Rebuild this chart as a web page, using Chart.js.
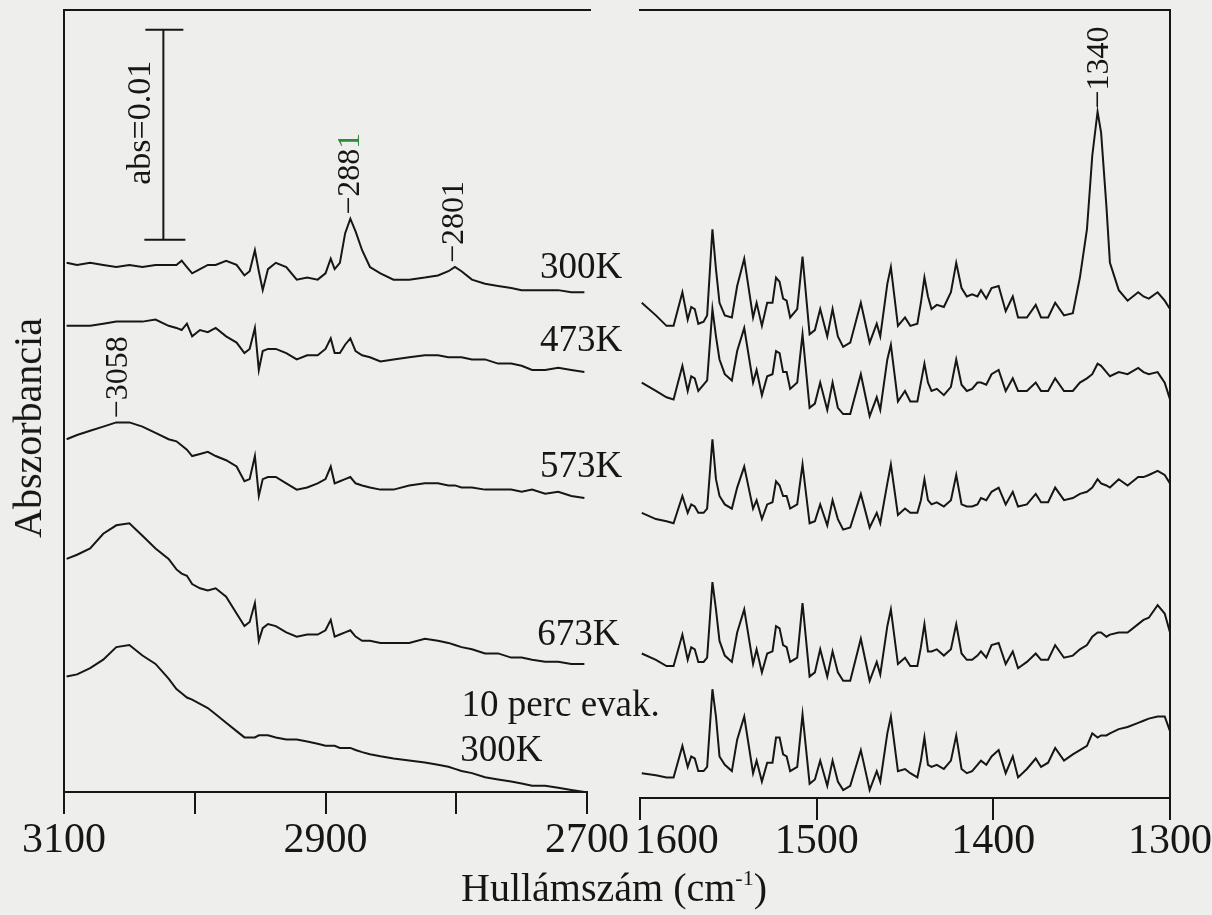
<!DOCTYPE html>
<html>
<head>
<meta charset="utf-8">
<script src="https://cdn.jsdelivr.net/npm/chart.js@4.4.1/dist/chart.umd.min.js"></script>
<style>
  html, body { margin: 0; padding: 0; background: #eeeeec; overflow: hidden; }
  body { width: 1212px; height: 915px; position: relative; font-family: "Liberation Serif", "Times New Roman", serif; color: #161616; }
  #left-chart { position: absolute; left: 0; top: 0; }
  #right-chart { position: absolute; left: 550px; top: 0; }
  .axis-title { position: absolute; font-size: 40px; line-height: 40px; white-space: nowrap; }
  .axis-title sup { font-size: 22px; vertical-align: 16px; line-height: 0; }
  #x-title { left: 614px; top: 868px; transform: translateX(-50%); }
  #y-title { left: 28px; top: 428px; transform: translate(-50%, -50%) rotate(-90deg); }
</style>
</head>
<body>
<canvas id="left-chart" width="700" height="915"></canvas>
<canvas id="right-chart" width="710" height="915"></canvas>
<div class="axis-title" id="x-title">Hullámszám (cm<sup>-1</sup>)</div>
<div class="axis-title" id="y-title">Abszorbancia</div>
<script>
// Spectra are stacked with offsets, values in mAbs (10 mAbs = abs 0.01)

// C-H stretching region (left panel)
const leftWavenumbers = [3098, 3090, 3080, 3070, 3060, 3050, 3040, 3030, 3020, 3014,
  3010, 3006, 3002, 2996, 2990, 2984, 2976, 2968, 2962, 2958,
  2954, 2951, 2948, 2944, 2938, 2930, 2922, 2914, 2906, 2900,
  2896, 2893, 2889, 2885, 2881, 2877, 2872, 2866, 2858, 2848,
  2836, 2824, 2814, 2806, 2801, 2796, 2788, 2778, 2768, 2758,
  2750, 2742, 2732, 2722, 2712, 2702];

const left300K = [25.2, 25.1, 25.2, 25.1, 25.0, 25.1, 25.0, 25.1, 25.1, 25.1,
  25.3, 25.0, 24.7, 24.9, 25.1, 25.1, 25.3, 25.1, 24.6, 24.8,
  25.8, 24.8, 23.9, 24.9, 25.2, 25.0, 24.4, 24.5, 24.4, 24.7,
  25.4, 24.9, 25.2, 26.6, 27.3, 26.7, 25.8, 25.0, 24.7, 24.4,
  24.4, 24.5, 24.6, 24.8, 25.0, 24.8, 24.4, 24.2, 24.1, 24.0,
  23.9, 23.9, 23.9, 23.9, 23.8, 23.8];

const left473K = [22.2, 22.2, 22.2, 22.3, 22.4, 22.4, 22.4, 22.5, 22.2, 22.1,
  22.0, 22.3, 21.7, 22.0, 21.9, 22.1, 21.7, 21.4, 20.9, 21.1,
  22.1, 20.1, 21.0, 21.1, 21.1, 20.9, 20.6, 20.8, 20.8, 21.1,
  21.6, 20.9, 20.9, 21.3, 21.6, 21.0, 20.8, 20.7, 20.5, 20.6,
  20.7, 20.8, 20.8, 20.7, 20.7, 20.7, 20.6, 20.6, 20.4, 20.4,
  20.3, 20.1, 20.1, 20.2, 20.1, 20.0];

const left573K = [16.8, 17.0, 17.2, 17.4, 17.6, 17.6, 17.4, 17.1, 16.8, 16.7,
  16.5, 16.3, 16.0, 16.1, 16.2, 16.0, 15.8, 15.5, 14.8, 14.9,
  16.0, 14.1, 14.9, 15.0, 15.0, 14.7, 14.4, 14.5, 14.7, 14.9,
  15.5, 14.7, 14.8, 14.9, 15.0, 14.7, 14.6, 14.5, 14.4, 14.4,
  14.6, 14.7, 14.7, 14.6, 14.6, 14.5, 14.5, 14.4, 14.4, 14.4,
  14.3, 14.4, 14.2, 14.3, 14.1, 14.0];

const left673K = [11.1, 11.3, 11.6, 12.3, 12.7, 12.8, 12.2, 11.6, 11.1, 10.6,
  10.4, 10.3, 9.9, 9.7, 9.6, 9.7, 9.3, 8.5, 7.9, 8.1,
  9.0, 7.2, 7.8, 8.0, 7.9, 7.6, 7.4, 7.5, 7.5, 7.7,
  8.2, 7.4, 7.5, 7.6, 7.7, 7.4, 7.2, 7.2, 7.1, 7.1,
  7.1, 7.3, 7.2, 7.1, 7.0, 6.9, 6.8, 6.6, 6.6, 6.4,
  6.4, 6.3, 6.2, 6.2, 6.1, 6.1];

const leftEvak300K = [5.5, 5.6, 5.9, 6.3, 6.9, 7.0, 6.5, 6.1, 5.4, 4.9,
  4.7, 4.5, 4.4, 4.2, 4.0, 3.7, 3.3, 2.9, 2.6, 2.6,
  2.6, 2.7, 2.7, 2.7, 2.6, 2.5, 2.5, 2.4, 2.3, 2.2,
  2.2, 2.2, 2.1, 2.1, 2.1, 2.0, 1.9, 1.8, 1.7, 1.6,
  1.5, 1.4, 1.3, 1.2, 1.1, 1.0, 0.9, 0.7, 0.6, 0.5,
  0.4, 0.3, 0.3, 0.2, 0.1, 0.0];

// ring vibration region (right panel)
const rightWavenumbers = [1599, 1591, 1585, 1581, 1576, 1573, 1571, 1569, 1567, 1564,
  1562, 1559, 1557, 1555, 1552, 1548, 1545, 1541, 1536, 1534,
  1531, 1528, 1525, 1523, 1521, 1519, 1517, 1515, 1511, 1508,
  1504, 1501, 1498, 1494, 1491, 1488, 1485, 1481, 1475, 1470,
  1466, 1464, 1460, 1458, 1454, 1450, 1447, 1443, 1441, 1439,
  1437, 1435, 1432, 1428, 1424, 1421, 1418, 1415, 1412, 1409,
  1407, 1404, 1401, 1397, 1393, 1389, 1386, 1381, 1376, 1373,
  1369, 1365, 1360, 1355, 1351, 1347, 1344, 1341, 1339, 1336,
  1334, 1329, 1324, 1318, 1315, 1312, 1307, 1303, 1300];

const right300K = [23.3, 22.7, 22.2, 22.2, 23.8, 22.5, 23.1, 23.0, 22.3, 22.4,
  22.7, 26.8, 24.9, 23.3, 22.7, 22.6, 24.1, 25.4, 22.6, 23.3,
  22.2, 23.3, 23.3, 24.5, 24.3, 23.5, 23.4, 22.6, 23.0, 25.5,
  21.8, 22.0, 23.0, 21.7, 23.0, 21.7, 21.2, 21.4, 23.3, 21.4,
  22.3, 21.7, 24.2, 25.0, 22.2, 22.6, 22.2, 22.3, 23.3, 24.5,
  23.6, 23.0, 23.2, 23.1, 23.8, 25.2, 24.0, 23.6, 23.7, 23.6,
  23.9, 23.5, 24.0, 24.1, 22.9, 23.6, 22.6, 22.6, 23.2, 22.6,
  22.6, 23.3, 22.7, 22.8, 24.5, 26.8, 30.3, 32.4, 31.4, 27.9,
  25.2, 23.9, 23.4, 23.8, 23.6, 23.5, 23.8, 23.4, 23.0];

const right473K = [19.5, 19.1, 18.8, 18.7, 20.3, 19.1, 19.8, 19.7, 19.1, 19.4,
  19.6, 23.0, 21.7, 20.6, 19.9, 19.6, 21.0, 22.1, 19.5, 20.1,
  18.9, 19.8, 19.9, 21.0, 20.9, 20.0, 20.0, 19.2, 19.5, 21.8,
  18.3, 18.5, 19.5, 18.2, 19.5, 18.3, 18.0, 18.0, 19.9, 17.9,
  18.8, 18.2, 20.6, 21.3, 18.6, 19.1, 18.6, 18.6, 19.5, 20.4,
  19.5, 19.1, 19.2, 18.9, 19.3, 20.6, 19.4, 19.1, 19.2, 19.5,
  19.5, 19.4, 19.9, 20.1, 19.1, 19.7, 19.1, 19.1, 19.5, 19.1,
  19.1, 19.7, 19.1, 19.1, 19.5, 19.7, 19.9, 20.4, 20.3, 20.0,
  19.8, 20.0, 19.9, 20.2, 20.0, 19.9, 20.0, 19.5, 18.7];

const right573K = [13.3, 13.0, 12.9, 12.8, 14.1, 13.3, 13.7, 13.6, 13.3, 13.3,
  13.5, 16.8, 14.9, 14.1, 13.7, 13.5, 14.5, 15.5, 13.5, 13.9,
  13.0, 13.7, 13.8, 14.8, 14.6, 14.1, 14.1, 13.5, 13.7, 15.6,
  12.8, 12.9, 13.7, 12.7, 13.9, 13.0, 12.5, 12.6, 14.2, 12.6,
  13.3, 12.8, 14.7, 15.6, 13.2, 13.5, 13.3, 13.3, 13.9, 14.9,
  13.9, 13.7, 13.8, 13.6, 13.9, 15.1, 13.7, 13.6, 13.6, 13.7,
  14.0, 13.9, 14.3, 14.5, 13.7, 14.3, 13.6, 13.7, 14.2, 13.8,
  13.8, 14.5, 13.9, 14.0, 14.2, 14.3, 14.5, 14.9, 14.7, 14.6,
  14.5, 14.9, 14.6, 15.0, 15.0, 15.1, 15.3, 15.1, 14.7];

const right673K = [6.6, 6.3, 6.0, 6.0, 7.5, 6.3, 6.9, 6.8, 6.2, 6.2,
  6.4, 10.0, 8.7, 7.2, 6.5, 6.2, 7.6, 8.7, 6.1, 6.8,
  5.7, 6.6, 6.7, 7.9, 7.8, 7.0, 6.9, 6.2, 6.4, 9.0,
  5.5, 5.7, 6.8, 5.5, 6.7, 5.7, 5.3, 5.3, 7.3, 5.3,
  6.2, 5.6, 7.9, 8.7, 6.1, 6.4, 6.0, 6.0, 6.9, 8.0,
  6.7, 6.7, 6.8, 6.5, 6.8, 8.0, 6.6, 6.3, 6.3, 6.5,
  6.7, 6.4, 7.0, 7.1, 6.1, 6.7, 5.9, 6.2, 6.6, 6.3,
  6.3, 7.0, 6.4, 6.5, 6.8, 7.0, 7.4, 7.6, 7.6, 7.4,
  7.5, 7.6, 7.6, 8.0, 8.2, 8.3, 8.9, 8.5, 7.6];

const rightEvak300K = [0.9, 0.8, 0.7, 0.7, 2.2, 1.2, 1.7, 1.6, 1.0, 1.0,
  1.2, 4.9, 3.6, 1.7, 1.3, 1.0, 2.5, 3.6, 0.9, 1.5,
  0.5, 1.4, 1.4, 2.6, 2.6, 1.8, 1.7, 1.0, 1.2, 3.7,
  0.4, 0.6, 1.5, 0.3, 1.5, 0.5, 0.1, 0.3, 2.0, 0.1,
  1.0, 0.5, 2.8, 3.6, 1.0, 1.1, 0.9, 0.7, 1.5, 2.6,
  1.3, 1.2, 1.3, 1.1, 1.5, 2.7, 1.1, 0.9, 1.0, 1.3,
  1.5, 1.3, 1.7, 2.0, 0.9, 1.7, 0.7, 1.1, 1.6, 1.2,
  1.4, 2.1, 1.5, 1.8, 2.0, 2.2, 2.8, 2.6, 2.7, 2.7,
  2.8, 3.0, 3.1, 3.3, 3.4, 3.5, 3.6, 3.6, 2.9];

const leftTickLabels = [3100, 2900, 2700];
const rightTickLabels = [1600, 1500, 1400, 1300];
const seriesLabels = ['300K', '473K', '573K', '673K', '10 perc evak.', '300K'];

const ink = '#161616';
const serif = '"Liberation Serif", "Times New Roman", serif';

function makeDataset(waves, values) {
    return {
        data: waves.map((w, i) => ({ x: w, y: values[i] })),
        borderColor: ink,
        borderWidth: 2,
        pointRadius: 0,
        tension: 0,
        fill: false
    };
}

// value of a series at the nearest wavenumber
function valueAt(waves, values, wn) {
    let best = 0;
    waves.forEach((w, i) => {
        if (Math.abs(w - wn) < Math.abs(waves[best] - wn)) best = i;
    });
    return values[best];
}

// text written upwards (rotated), parts may have own colour
function drawUpText(ctx, parts, x, y, size, baseline) {
    ctx.save();
    ctx.translate(x, y);
    ctx.rotate(-Math.PI / 2);
    ctx.font = size + 'px ' + serif;
    ctx.textAlign = 'left';
    ctx.textBaseline = baseline || 'middle';
    let dx = 0;
    parts.forEach(p => {
        ctx.fillStyle = p.color || ink;
        ctx.fillText(p.text, dx, 0);
        dx += ctx.measureText(p.text).width;
    });
    ctx.restore();
}

function topLine(chart, extraLeft, extraRight) {
    const { ctx, chartArea } = chart;
    ctx.save();
    ctx.strokeStyle = ink;
    ctx.lineWidth = 2;
    ctx.beginPath();
    ctx.moveTo(chartArea.left - extraLeft, chartArea.top);
    ctx.lineTo(chartArea.right + extraRight, chartArea.top);
    ctx.stroke();
    ctx.restore();
}

const leftDecor = {
    id: 'leftDecor',
    afterDraw(chart) {
        const { ctx, scales: { x, y } } = chart;
        topLine(chart, 1, 4);

        // scale bar: abs = 0.01
        const bx = x.getPixelForValue(3024);
        const y0 = y.getPixelForValue(26.3);
        const y1 = y.getPixelForValue(36.3);
        ctx.save();
        ctx.strokeStyle = ink;
        ctx.lineWidth = 2;
        ctx.beginPath();
        ctx.moveTo(bx, y0); ctx.lineTo(bx, y1);
        ctx.moveTo(bx - 19, y0); ctx.lineTo(bx + 22, y0);
        ctx.moveTo(bx - 18, y1); ctx.lineTo(bx + 20, y1);
        ctx.stroke();
        ctx.restore();
        drawUpText(ctx, [{ text: 'abs=0.01' }], bx - 13, y0 - 55, 34, 'alphabetic');

        // peak positions
        const peaks = [
            { parts: [{ text: '\u2212288' }, { text: '1', color: '#2f8a3a' }], wn: 2881, values: left300K },
            { parts: [{ text: '\u22122801' }], wn: 2801, values: left300K },
            { parts: [{ text: '\u22123058' }], wn: 3058, values: left573K }
        ];
        peaks.forEach(p => {
            const px = x.getPixelForValue(p.wn);
            const py = y.getPixelForValue(valueAt(leftWavenumbers, p.values, p.wn)) - 4;
            drawUpText(ctx, p.parts, px, py, 32);
        });

        // temperature labels
        const spots = [
            { wn: 2736, v: 24.5 }, { wn: 2736, v: 21.0 }, { wn: 2736, v: 15.0 },
            { wn: 2738, v: 7.0 }, { wn: 2796, v: 3.6 }, { wn: 2797, v: 1.5 }
        ];
        ctx.save();
        ctx.fillStyle = ink;
        ctx.font = '37px ' + serif;
        ctx.textAlign = 'left';
        ctx.textBaseline = 'alphabetic';
        seriesLabels.forEach((t, i) => {
            ctx.fillText(t, x.getPixelForValue(spots[i].wn), y.getPixelForValue(spots[i].v));
        });
        ctx.restore();
    }
};

const rightDecor = {
    id: 'rightDecor',
    afterDraw(chart) {
        const { ctx, scales: { x, y } } = chart;
        topLine(chart, 1, 1);
        const px = x.getPixelForValue(1340);
        const py = y.getPixelForValue(valueAt(rightWavenumbers, right300K, 1340)) - 3;
        drawUpText(ctx, [{ text: '\u22121340' }], px, py, 32);
    }
};

function axisOptions(cfg) {
    return {
        x: {
            type: 'linear',
            reverse: true,
            min: cfg.min,
            max: cfg.max,
            afterFit: s => { s.height = cfg.axisHeight; },
            ticks: {
                stepSize: cfg.step,
                autoSkip: false,
                maxRotation: 0,
                padding: cfg.labelPad,
                color: ink,
                font: { family: serif, size: 42 },
                callback: cfg.label
            },
            grid: { drawOnChartArea: false, drawTicks: true, tickLength: 22, color: ink, lineWidth: 2 },
            border: { display: true, color: ink, width: 2 }
        },
        y: {
            position: cfg.yPosition,
            min: cfg.yMin,
            max: 37.24,
            afterFit: s => { s.width = 0; },
            ticks: { display: false },
            grid: { display: false, drawTicks: false },
            border: { display: true, color: ink, width: 2 }
        }
    };
}

function baseOptions(scales, padding) {
    return {
        responsive: false,
        animation: false,
        devicePixelRatio: 1,
        layout: { padding: padding },
        plugins: { legend: { display: false }, tooltip: { enabled: false } },
        scales: scales
    };
}

new Chart(document.getElementById('left-chart'), {
    type: 'line',
    data: {
        datasets: [left300K, left473K, left573K, left673K, leftEvak300K]
            .map(s => makeDataset(leftWavenumbers, s))
    },
    options: baseOptions(axisOptions({
        min: 2700, max: 3100, step: 100, yPosition: 'left', yMin: 0,
        axisHeight: 123, labelPad: 2,
        label: v => leftTickLabels.includes(v) ? String(v) : ''
    }), { left: 64, right: 113, top: 10, bottom: 0 }),
    plugins: [leftDecor]
});

// the 1600 label sits right of its tick so it clears 2700
new Chart(document.getElementById('right-chart'), {
    type: 'line',
    data: {
        datasets: [right300K, right473K, right573K, right673K, rightEvak300K]
            .map(s => makeDataset(rightWavenumbers, s))
    },
    options: baseOptions(axisOptions({
        min: 1300, max: 1600, step: 100, yPosition: 'right', yMin: -0.28,
        axisHeight: 117, labelPad: -3,
        label: v => !rightTickLabels.includes(v) ? '' : (v === 1600 ? '       1600' : String(v))
    }), { left: 90, right: 90, top: 10, bottom: 0 }),
    plugins: [rightDecor]
});
</script>
</body>
</html>
